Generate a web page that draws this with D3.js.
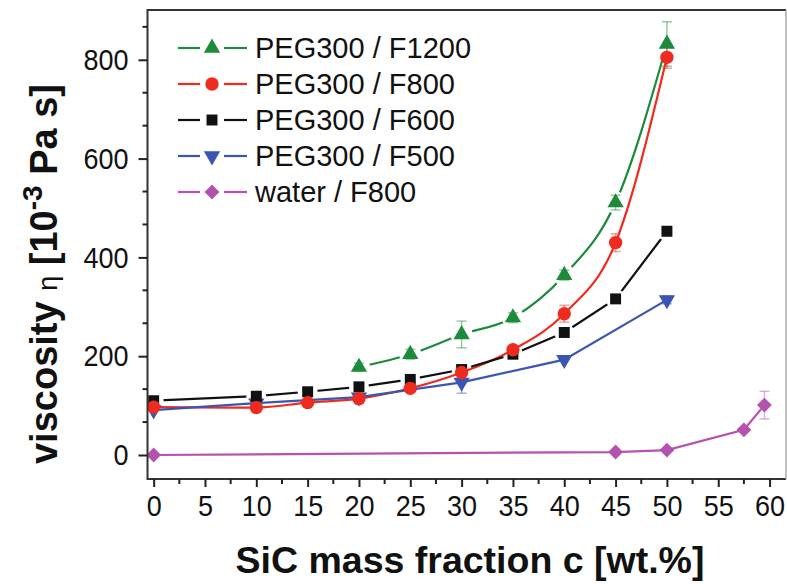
<!DOCTYPE html>
<html>
<head>
<meta charset="utf-8">
<script src="https://cdn.jsdelivr.net/npm/d3@7"></script>
<style>
  html, body { margin: 0; padding: 0; background: #fff; }
  svg { display: block; font-family: "Liberation Sans", Arial, sans-serif; }
</style>
</head>
<body>
<svg id="chart" width="787" height="584"></svg>
<script>
// SiC mass fraction [wt.%] and viscosity [10^-3 Pa s] per suspension
const f1200X = [20, 25, 30, 35, 40, 45, 50];
const f1200Y = [178, 204, 244, 278, 364, 511, 832];
const f1200E = [8, 10, 27, 10, 10, 15, 45];

const f800X = [0, 10, 15, 20, 25, 30, 35, 40, 45, 50];
const f800Y = [97, 96, 106, 114, 135, 167, 213, 286, 430, 805];
const f800E = [0, 0, 0, 0, 0, 0, 8, 17, 18, 22];

const f600X = [0, 10, 15, 20, 25, 30, 35, 40, 45, 50];
const f600Y = [110, 119, 128, 138, 153, 173, 204, 248, 316, 453];
const f600E = [0, 0, 0, 0, 0, 0, 0, 0, 0, 0];

const f500X = [0, 10, 20, 30, 40, 50];
const f500Y = [91, 105, 117, 147, 193, 314];
const f500E = [0, 0, 0, 22, 0, 8];

const waterX = [0, 45, 50, 57.5, 59.5];
const waterY = [0, 6, 10, 51, 101];
const waterE = [0, 0, 0, 0, 28];

const seriesNames = ["PEG300 / F1200", "PEG300 / F800", "PEG300 / F600", "PEG300 / F500", "water / F800"];

const xTicks = [0, 5, 10, 15, 20, 25, 30, 35, 40, 45, 50, 55, 60];
const yTicks = [0, 200, 400, 600, 800];

// Styling of each series
const styles = [
  { color: "#1d8a3c", symbol: "triUp",   gap: 11, smooth: true },
  { color: "#ee2b1e", symbol: "circle",  gap: 0,  smooth: true },
  { color: "#111111", symbol: "square",  gap: 10, smooth: false },
  { color: "#3b55b4", symbol: "triDown", gap: 0,  smooth: false },
  { color: "#b552b0", symbol: "diamond", gap: 0,  smooth: false }
];

const series = [
  [f1200X, f1200Y, f1200E],
  [f800X, f800Y, f800E],
  [f600X, f600Y, f600E],
  [f500X, f500Y, f500E],
  [waterX, waterY, waterE]
].map((s, i) => ({
  name: seriesNames[i],
  style: styles[i],
  points: s[0].map((x, j) => ({ x, y: s[1][j], e: s[2][j] }))
}));

const svg = d3.select("#chart");
const plotLeft = 147.5, plotRight = 786, plotTop = 10, plotBottom = 479;

const x = d3.scaleLinear().domain([-0.6, 61.6]).range([plotLeft, plotRight]);
const y = d3.scaleLinear().domain([-48.6, 900.8]).range([plotBottom, plotTop]);

function symbolPath(kind) {
  switch (kind) {
    case "triUp":   return d3.symbol(d3.symbolTriangle, 115)();
    case "triDown": return d3.symbol(d3.symbolTriangle, 115)();
    case "circle":  return d3.symbol(d3.symbolCircle, 140)();
    case "square":  return d3.symbol(d3.symbolSquare, 120)();
    case "diamond": return d3.symbol(d3.symbolSquare, 110)();
  }
}
function symbolRotate(kind) {
  return kind === "triDown" ? 180 : kind === "diamond" ? 45 : 0;
}

const defs = svg.append("defs");
const clip = defs.append("clipPath").attr("id", "plot-clip");
clip.append("rect").attr("x", plotLeft).attr("y", plotTop)
  .attr("width", plotRight - plotLeft).attr("height", plotBottom - plotTop);

// Masks that open a small gap in a line around its own symbols
series.forEach((s, i) => {
  if (!s.style.gap) return;
  const m = defs.append("mask").attr("id", "gap-" + i).attr("maskUnits", "userSpaceOnUse")
    .attr("x", 0).attr("y", 0).attr("width", 787).attr("height", 584);
  m.append("rect").attr("width", 787).attr("height", 584).attr("fill", "#fff");
  m.selectAll("circle").data(s.points).join("circle")
    .attr("cx", d => x(d.x)).attr("cy", d => y(d.y)).attr("r", s.style.gap).attr("fill", "#000");
});

const plot = svg.append("g").attr("clip-path", "url(#plot-clip)");

// Error bars
series.forEach(s => {
  const g = plot.append("g").attr("stroke", s.style.color).attr("stroke-opacity", 0.45)
    .attr("stroke-width", 1.5).attr("fill", "none");
  s.points.filter(d => d.e > 0).forEach(d => {
    const cx = x(d.x), y1 = y(d.y + d.e), y2 = y(d.y - d.e);
    g.append("line").attr("x1", cx).attr("x2", cx).attr("y1", y1).attr("y2", y2);
    g.append("line").attr("x1", cx - 5).attr("x2", cx + 5).attr("y1", y1).attr("y2", y1);
    g.append("line").attr("x1", cx - 5).attr("x2", cx + 5).attr("y1", y2).attr("y2", y2);
  });
});

// Connecting curves
series.forEach((s, i) => {
  const line = d3.line().x(d => x(d.x)).y(d => y(d.y))
    .curve(s.style.smooth ? d3.curveMonotoneX : d3.curveLinear);
  plot.append("path").datum(s.points)
    .attr("d", line)
    .attr("fill", "none")
    .attr("stroke", s.style.color)
    .attr("stroke-width", 2.2)
    .attr("mask", s.style.gap ? "url(#gap-" + i + ")" : null);
});

// Symbols, drawn from the last series to the first
series.slice().reverse().forEach(s => {
  plot.append("g").selectAll("path").data(s.points).join("path")
    .attr("d", symbolPath(s.style.symbol))
    .attr("transform", d => `translate(${x(d.x)},${y(d.y)}) rotate(${symbolRotate(s.style.symbol)})`)
    .attr("fill", s.style.color);
});

// Frame
const frame = svg.append("g").attr("fill", "none").attr("stroke-width", 2);
frame.append("path").attr("stroke", "#333")
  .attr("d", `M${plotRight},${plotTop}H${plotLeft}V${plotBottom}H${plotRight}`);
frame.append("path").attr("stroke", "#aaa").attr("stroke-width", 1.5)
  .attr("d", `M${plotRight},${plotTop}V${plotBottom}`);

// X axis
const xAxis = d3.axisBottom(x).tickValues(xTicks).tickSize(8).tickPadding(8).tickFormat(d3.format("d"));
const gx = svg.append("g").attr("transform", `translate(0,${plotBottom})`).call(xAxis);
gx.select(".domain").remove();
gx.selectAll(".tick line").attr("stroke", "#222").attr("stroke-width", 2);
gx.selectAll("text").attr("font-size", 30).attr("fill", "#111")
  .attr("font-family", "Liberation Sans, Arial, sans-serif")
  .attr("transform", "scale(0.9,1)");
const xMinor = d3.range(2.5, 61, 5);
svg.append("g").selectAll("line").data(xMinor).join("line")
  .attr("x1", d => x(d)).attr("x2", d => x(d)).attr("y1", plotBottom).attr("y2", plotBottom + 5)
  .attr("stroke", "#222").attr("stroke-width", 2);

// Y axis
const yAxis = d3.axisLeft(y).tickValues(yTicks).tickSize(9).tickPadding(0);
const gy = svg.append("g").attr("transform", `translate(${plotLeft},0)`).call(yAxis);
gy.select(".domain").remove();
gy.selectAll(".tick line").attr("stroke", "#222").attr("stroke-width", 2);
gy.selectAll("text").attr("font-size", 30).attr("fill", "#111")
  .attr("font-family", "Liberation Sans, Arial, sans-serif")
  .attr("x", null)
  .attr("transform", "translate(-19,0) scale(0.9,1)");
const yMinor = d3.range(1, 14).map(k => k * 200 / 3).filter(v => v % 200 > 1 && v % 200 < 199 && v < 900);
svg.append("g").selectAll("line").data(yMinor).join("line")
  .attr("x1", plotLeft - 5).attr("x2", plotLeft).attr("y1", d => y(d)).attr("y2", d => y(d))
  .attr("stroke", "#222").attr("stroke-width", 2);

// Axis titles
svg.append("text").attr("x", 470).attr("y", 573).attr("text-anchor", "middle")
  .attr("font-size", 37.5).attr("font-weight", "bold").attr("fill", "#111")
  .text("SiC mass fraction c [wt.%]");

const yt = svg.append("text").attr("transform", "translate(57,274) rotate(-90)")
  .attr("text-anchor", "middle").attr("font-size", 38).attr("font-weight", "bold").attr("fill", "#111");
yt.append("tspan").text("viscosity ");
yt.append("tspan").attr("font-weight", "normal").attr("font-size", 27).text("η");
yt.append("tspan").text(" [10");
yt.append("tspan").attr("font-size", 28).attr("dy", -15).text("-3");
yt.append("tspan").attr("dy", 15).text(" Pa s]");

// Legend
const legend = svg.append("g");
series.forEach((s, i) => {
  const cy = 48 + i * 36;
  const g = legend.append("g");
  g.append("line").attr("x1", 178).attr("x2", 200).attr("y1", cy).attr("y2", cy)
    .attr("stroke", s.style.color).attr("stroke-width", 2.2);
  g.append("line").attr("x1", 224).attr("x2", 247).attr("y1", cy).attr("y2", cy)
    .attr("stroke", s.style.color).attr("stroke-width", 2.2);
  g.append("path").attr("d", symbolPath(s.style.symbol))
    .attr("transform", `translate(212,${cy}) rotate(${symbolRotate(s.style.symbol)})`)
    .attr("fill", s.style.color);
  g.append("text").attr("x", 255).attr("y", cy + 10).attr("font-size", 29).attr("fill", "#111").text(s.name);
});
</script>
</body>
</html>
